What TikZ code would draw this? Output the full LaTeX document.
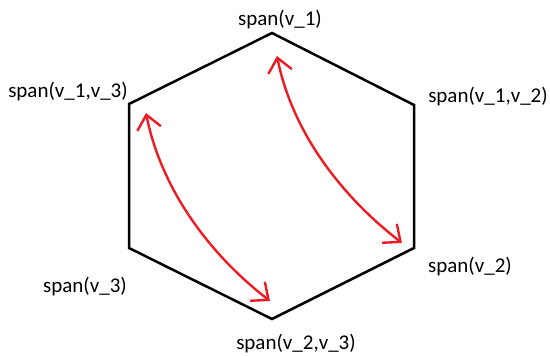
\documentclass[tikz,border=0pt]{standalone}
\usepackage{fontspec}
\setmainfont{Carlito}
\usepackage{xcolor}
\usetikzlibrary{arrows.meta, positioning}
\definecolor{spanred}{RGB}{237,28,36}

\begin{document}
\begin{tikzpicture}[x=1pt, y=-1pt]
  \tikzset{
    lbl/.style={inner sep=0pt, anchor=base, font=\fontsize{21}{25}\selectfont},
    edge/.style={draw=black, line width=2.5pt, line join=miter},
    arr/.style={draw=spanred, line width=2.4pt,
                {Straight Barb[length=14pt, width=24pt, line width=2.4pt]}-{Straight Barb[length=14pt, width=24pt, line width=2.4pt]}}
  }
  \useasboundingbox (0,0) rectangle (550,356);
  % Corners of the hexagon
  \coordinate (v1)   at (272,33);
  \coordinate (v12)  at (414,105);
  \coordinate (v2)   at (414,248);
  \coordinate (v23)  at (272,319);
  \coordinate (v3)   at (129,248);
  \coordinate (v13)  at (129,104);
  \draw[edge] (v1) -- (v12) -- (v2) -- (v23) -- (v3) -- (v13) -- cycle;
  % Labels at the corners
  \node[lbl] (lv1)  at ([shift={(8,-8)}]v1)    {span(v\_1)};
  \node[lbl] (lv12) at ([shift={(74,-3)}]v12)  {span(v\_1,v\_2)};
  \node[lbl] (lv2)  at ([shift={(56,24)}]v2)   {span(v\_2)};
  \node[lbl] (lv23) at ([shift={(24,30)}]v23)  {span(v\_2,v\_3)};
  \node[lbl] (lv3)  at ([shift={(-44,44)}]v3)  {span(v\_3)};
  \node[lbl] (lv13) at ([shift={(-61,-7)}]v13) {span(v\_1,v\_3)};
  % Red double arrows
  \coordinate (a1) at (146,113);
  \coordinate (b1) at (270,301);
  \coordinate (a2) at (277,56);
  \coordinate (b2) at (402,243);
  \foreach \a/\b in {a1/b1,a2/b2}
    \draw[arr] (\a) .. controls +(15,75) and +(-62,-48) .. (\b);
\end{tikzpicture}
\end{document}
